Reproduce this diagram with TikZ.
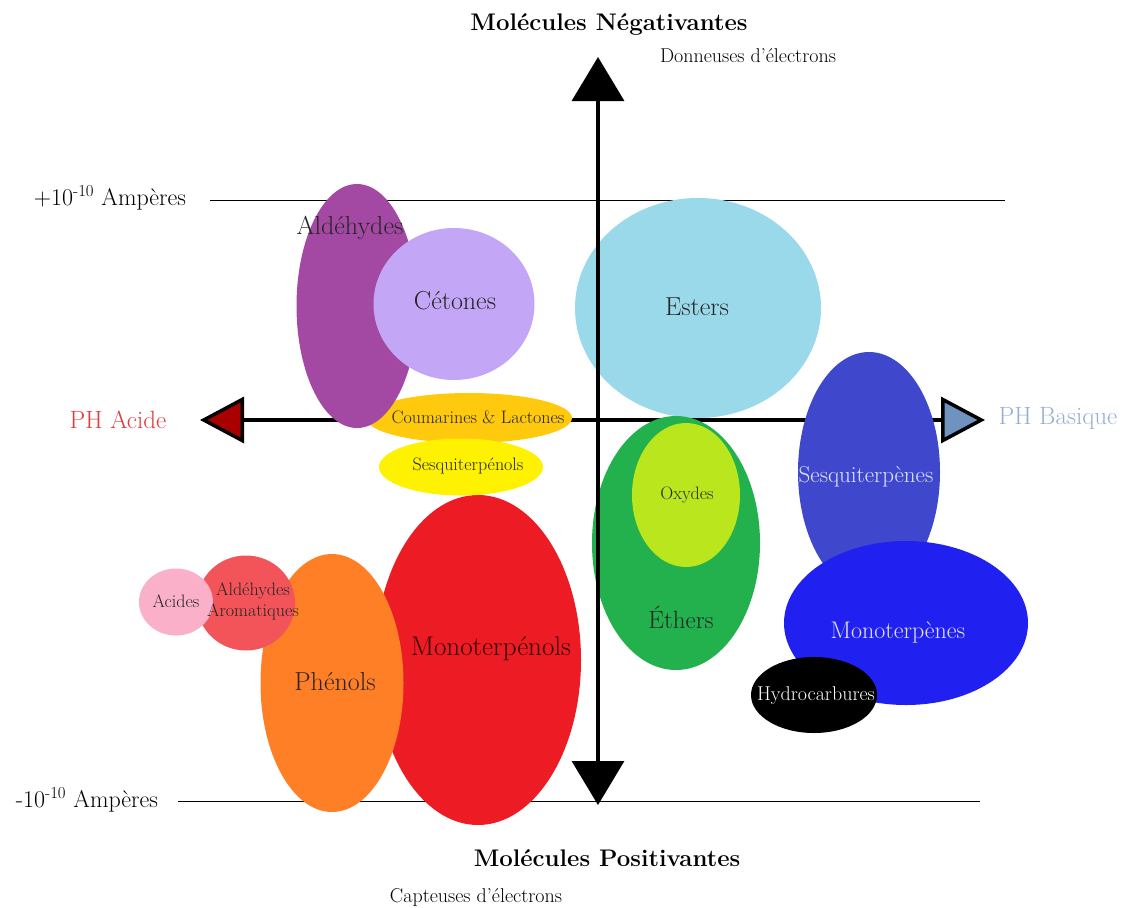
\documentclass[tikz,border=0pt]{standalone}
\usepackage{tikz}
\usetikzlibrary{arrows.meta,shapes.geometric}

\definecolor{aldpurple}{HTML}{A349A4}
\definecolor{cetlilac}{HTML}{C4A6F6}
\definecolor{coumgold}{HTML}{FFC90E}
\definecolor{sesqyellow}{HTML}{FFF200}
\definecolor{esterblue}{HTML}{99D9EA}
\definecolor{ethgreen}{HTML}{22B14C}
\definecolor{oxylime}{HTML}{B9E61D}
\definecolor{sqindigo}{HTML}{3F48CC}
\definecolor{monoblue}{HTML}{2020F0}
\definecolor{monored}{HTML}{ED1C24}
\definecolor{phenorange}{HTML}{FF7F27}
\definecolor{aromsalmon}{HTML}{F2545A}
\definecolor{acipink}{HTML}{F9B0C8}
\definecolor{acidtip}{HTML}{A80000}
\definecolor{basetip}{HTML}{7092BE}
\definecolor{acidtext}{HTML}{E03A3A}
\definecolor{basetext}{HTML}{95AED4}
\definecolor{lighttext}{HTML}{E2E4FF}

\tikzset{
	blob/.style={ellipse, draw=none, inner sep=0pt},
	biglabel/.style={text=black!85, font=\fontsize{26}{28}\selectfont, inner sep=0pt},
	smalllabel/.style={text=black!85, font=\fontsize{18}{21}\selectfont, inner sep=0pt, align=center},
	axis/.style={line width=3.5pt},
	scaleline/.style={line width=1pt},
}

\begin{document}
\begin{tikzpicture}[x=1pt, y=-1pt]
		%%%%% START %%%%%
		\useasboundingbox (0,0) rectangle (1125,908);
		
		% ampere lines
		\coordinate (hiL) at (210,200);
		\coordinate (hiR) at (1005,200);
		\coordinate (loL) at (178,801);
		\coordinate (loR) at (980,801);
		\draw[scaleline] (hiL) -- (hiR);
		\draw[scaleline] (loL) -- (loR);
		
		% pH axis
		\coordinate (acid) at (200,420);
		\coordinate (base) at (985,420);
		\draw[axis, {Triangle[length=44pt, width=46pt, fill=acidtip]}-{Triangle[length=44pt, width=46pt, fill=basetip]}] (acid) -- (base);
		
		% families
		\node[blob, fill=esterblue, minimum width=246pt, minimum height=220pt] (esters) at (698,308) {};
		\node[blob, fill=sqindigo, minimum width=142pt, minimum height=240pt] (sesquiterp) at (869,472) {};
		\node[blob, fill=monoblue, minimum width=244pt, minimum height=164pt] (monoterp) at (906,623) {};
		\node[blob, fill=black, minimum width=126pt, minimum height=76pt] (hydro) at (814,695) {};
		\node[blob, fill=ethgreen, minimum width=168pt, minimum height=254pt] (ethers) at (676,543) {};
		\node[blob, fill=oxylime, minimum width=108pt, minimum height=144pt] (oxydes) at (686,495) {};
		\node[blob, fill=coumgold, minimum width=206pt, minimum height=50pt] (coum) at (469,418) {};
		\node[blob, fill=aldpurple, minimum width=121pt, minimum height=244pt] (aldehydes) at (357,306) {};
		\node[blob, fill=cetlilac, minimum width=161pt, minimum height=152pt] (cetones) at (454,304) {};
		\node[blob, fill=monored, minimum width=206pt, minimum height=330pt] (monoterpol) at (478,660) {};
		\node[blob, fill=sesqyellow, minimum width=164pt, minimum height=57pt] (sesquiterpol) at (461,467) {};
		\node[blob, fill=phenorange, minimum width=143pt, minimum height=258pt] (phenols) at (332,683) {};
		\node[blob, fill=aromsalmon, minimum width=98pt, minimum height=95pt] (aromatic) at (246,603) {};
		\node[blob, fill=acipink, minimum width=74pt, minimum height=67pt] (acides) at (176,602) {};
		
		% charge axis
		\coordinate (neg) at (598,57);
		\coordinate (pos) at (598,805);
		\draw[axis, {Triangle[length=44pt, width=52pt]}-{Triangle[length=44pt, width=52pt]}] (pos) -- (neg);
		
		% labels
		\node[biglabel] (lblAld) at (350,228) {Aldéhydes};
		\node[biglabel] (lblCet) at (455,301) {Cétones};
		\node[biglabel] (lblEst) at (697,307) {Esters};
		\node[smalllabel] (lblCoum) at (478,417) {Coumarines \& Lactones};
		\node[smalllabel] (lblSqol) at (468,466) {Sesquiterpénols};
		\node[smalllabel] (lblOxy) at (687,495) {Oxydes};
		\node[biglabel, font=\fontsize{25}{28}\selectfont] (lblEth) at (681,617) {Éthers};
		\node[biglabel, text=lighttext, font=\fontsize{23}{26}\selectfont] (lblSq) at (866,477) {Sesquiterpènes};
		\node[biglabel, text=lighttext, font=\fontsize{24}{26}\selectfont] (lblMono) at (898,632) {Monoterpènes};
		\node[smalllabel, text=white, font=\fontsize{20}{22}\selectfont] (lblHyd) at (816,696) {Hydrocarbures};
		\node[biglabel, text=black!80!red, font=\fontsize{27}{30}\selectfont] (lblMol) at (491,649) {Monoterpénols};
		\node[biglabel] (lblPhe) at (335,682) {Phénols};
		\node[smalllabel] (lblArom) at (253,601) {Aldéhydes\\Aromatiques};
		\node[smalllabel] (lblAci) at (176,601) {Acides};
		
		% axis titles
		\node[font=\fontsize{24}{28}\selectfont\bfseries] (negTitle) at (609,24) {Molécules Négativantes};
		\node[font=\fontsize{20}{24}\selectfont] (negSub) at (748,56) {Donneuses d'électrons};
		\node[font=\fontsize{24}{28}\selectfont\bfseries] (posTitle) at (607,858) {Molécules Positivantes};
		\node[font=\fontsize{20}{24}\selectfont] (posSub) at (476,897) {Capteuses d'électrons};
		\node[font=\fontsize{25}{28}\selectfont, text=acidtext] (acidTitle) at (118,420) {PH Acide};
		\node[font=\fontsize{25}{28}\selectfont, text=basetext] (baseTitle) at (1058,418) {PH Basique};
		\node[font=\fontsize{24}{28}\selectfont] (hiAmp) at (110,198) {+10\textsuperscript{-10} Ampères};
		\node[font=\fontsize{24}{28}\selectfont] (loAmp) at (87,800) {-10\textsuperscript{-10} Ampères};
		
		%%%%% END %%%%%
	\end{tikzpicture}
\end{document}
